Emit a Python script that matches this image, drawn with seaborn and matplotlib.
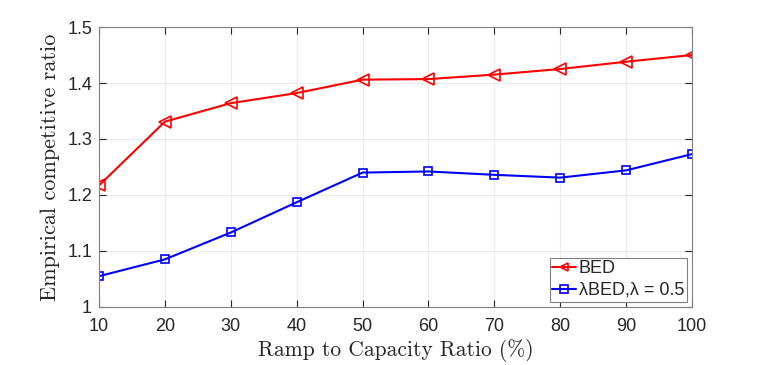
import matplotlib
matplotlib.use("Agg")
import matplotlib.pyplot as plt
import seaborn as sns
import pandas as pd

# Data
ratio = [10, 20, 30, 40, 50, 60, 70, 80, 90, 100]
bed = [1.217, 1.331, 1.364, 1.382, 1.406, 1.407, 1.415, 1.425, 1.438, 1.450]
lbed = [1.055, 1.085, 1.133, 1.187, 1.240, 1.242, 1.236, 1.231, 1.244, 1.273]
labels = ["BED", "λBED,λ = 0.5"]

df = pd.DataFrame({
    "ratio": ratio * 2,
    "value": bed + lbed,
    "method": [labels[0]] * len(ratio) + [labels[1]] * len(ratio),
})

sns.set_style("whitegrid")
plt.rcParams["font.family"] = ["Liberation Sans", "DejaVu Sans"]

fig = plt.figure(figsize=(7.64, 3.65), dpi=100)
ax = fig.add_axes([0.1296, 0.1590, 0.7762, 0.7670])

sns.lineplot(data=df, x="ratio", y="value", hue="method", style="method",
             palette=["#ff0000", "#0000ff"], markers=["<", "s"], dashes=False,
             markersize=8, linewidth=1.5, markerfacecolor="none",
             markeredgewidth=1.2, ax=ax)
# markers edge colours follow line colour
for line, c in zip(ax.get_lines(), ["#ff0000", "#0000ff"]):
    line.set_markeredgecolor(c)
    line.set_markerfacecolor("none")
ax.get_lines()[1].set_markersize(6)

ax.set_xlim(10, 100)
ax.set_ylim(1.0, 1.5)
ax.set_xticks(ratio)
ax.set_yticks([1.0, 1.1, 1.2, 1.3, 1.4, 1.5])
ax.set_yticklabels(["1", "1.1", "1.2", "1.3", "1.4", "1.5"])
ax.tick_params(direction="in", length=5, labelsize=13, colors="#262626",
               top=True, right=True, bottom=True, left=True)
ax.tick_params(axis="x", pad=8)
ax.tick_params(axis="y", pad=5)
ax.grid(True, color="#ebebeb", linewidth=0.8)
for s in ax.spines.values():
    s.set_visible(True)
    s.set_color("#808080")
    s.set_linewidth(0.8)

ax.set_xlabel("Ramp to Capacity Ratio (%)", family="cmr10", fontsize=15.5, labelpad=3)
ax.set_ylabel("Empirical competitive ratio", family="cmr10", fontsize=16, labelpad=5)

leg = ax.legend(loc="lower right", fontsize=13, frameon=True, fancybox=False,
                edgecolor="#808080", framealpha=1, handlelength=1.3,
                handletextpad=0.15, borderpad=0.15, labelspacing=0.25,
                borderaxespad=0.3)
leg.get_frame().set_linewidth(0.8)
for h, c in zip(leg.get_lines(), ["#ff0000", "#0000ff"]):
    h.set_markeredgecolor(c)
    h.set_markerfacecolor("none")
    h.set_markersize(6)

fig.savefig("out.png", dpi=100)
